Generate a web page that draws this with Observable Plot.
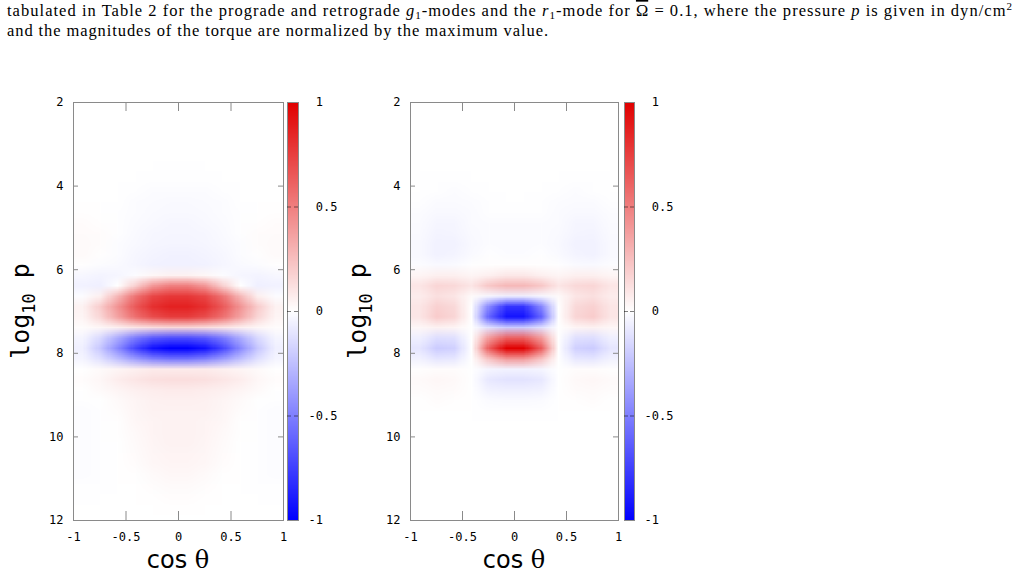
<!DOCTYPE html>
<html>
<head>
<meta charset="utf-8">
<script src="https://cdn.jsdelivr.net/npm/d3@7"></script>
<script src="https://cdn.jsdelivr.net/npm/@observablehq/plot@0.6"></script>
<style>
  html, body { margin: 0; padding: 0; background: #fff; }
  #root { position: relative; width: 1015px; height: 574px; overflow: hidden; background: #fff; }
  .abs { position: absolute; top: 0; }
  svg text { white-space: pre; }
</style>
</head>
<body>
<div id="root">
  <svg class="abs" style="left:0" width="1015" height="46" font-family="'Liberation Serif', 'DejaVu Serif', serif" font-size="16.5" fill="#000">
    <text x="7" y="16" textLength="1005" lengthAdjust="spacing">tabulated in Table 2 for the prograde and retrograde <tspan font-style="italic">g</tspan><tspan font-size="11" dy="3">1</tspan><tspan dy="-3">-modes and the </tspan><tspan font-style="italic">r</tspan><tspan font-size="11" dy="3">1</tspan><tspan dy="-3">-mode for </tspan><tspan text-decoration="overline">Ω</tspan><tspan> = 0.1, where the pressure </tspan><tspan font-style="italic">p</tspan><tspan> is given in dyn/cm</tspan><tspan font-size="11" dy="-6">2</tspan></text>
    <text x="7" y="36" textLength="541" lengthAdjust="spacing">and the magnitudes of the torque are normalized by the maximum value.</text>
  </svg>
  <div id="left" class="abs" style="left:0"></div>
  <div id="leftbar" class="abs" style="left:287px"></div>
  <div id="right" class="abs" style="left:337px"></div>
  <div id="rightbar" class="abs" style="left:624px"></div>
</div>
<script>
// ---------- axes / ticks ----------
const X_DOMAIN = [-1, 1];          // cos θ
const Y_DOMAIN = [2, 12];          // log10 p (top to bottom)
const xTickValues = [-1, -0.5, 0, 0.5, 1];
const yTickValues = [2, 4, 6, 8, 10, 12];
const cbTickValues = [1, 0.5, 0, -0.5, -1];
const N_COLS = 12;                 // cos θ cells
const N_ROWS = 40;                 // log10 p cells (0.25 each, from 2 at top to 12)

// ---------- normalized torque, left panel (rows: log p = 2 .. 12, cols: cos θ = -1 .. 1) ----------
const leftTorque = [
  [0,0,0,0,0,0,0,0,0,0,0,0],
  [0,0,0,0,0,0,0,0,0,0,0,0],
  [0,0,0,0,0,0,0,0,0,0,0,0],
  [0,0,0,0,0,0,0,0,0,0,0,0],
  [0,0,0,0,0,0,0,0,0,0,0,0],
  [0,0,0,0,0,0,0,0,0,0,0,0],
  [0,0,0,0,0,-0.005,-0.005,0,0,0,0,0],
  [0,0,0,0,-0.005,-0.005,-0.005,-0.005,0,0,0,0],
  [0,0,0,-0.005,-0.01,-0.01,-0.01,-0.01,-0.005,0,0,0],
  [0,0,0,-0.01,-0.015,-0.02,-0.02,-0.015,-0.01,0,0,0],
  [0.005,0,-0.005,-0.01,-0.02,-0.025,-0.025,-0.02,-0.01,-0.005,0,0.005],
  [0.01,0.005,-0.005,-0.015,-0.025,-0.03,-0.03,-0.025,-0.015,-0.005,0.005,0.01],
  [0.015,0.01,-0.005,-0.02,-0.03,-0.035,-0.035,-0.03,-0.02,-0.005,0.01,0.015],
  [0.02,0.01,-0.01,-0.025,-0.035,-0.04,-0.04,-0.035,-0.025,-0.01,0.01,0.02],
  [0.02,0.005,-0.01,-0.03,-0.045,-0.05,-0.05,-0.045,-0.03,-0.01,0.005,0.02],
  [0.005,-0.01,-0.02,-0.035,-0.05,-0.055,-0.055,-0.05,-0.035,-0.02,-0.01,0.005],
  [-0.03,-0.045,-0.035,-0.01,0.03,0.05,0.05,0.03,-0.01,-0.035,-0.045,-0.03],
  [-0.05,-0.06,0.0,0.18,0.4,0.5,0.5,0.4,0.18,0.0,-0.06,-0.05],
  [-0.01,0.06,0.28,0.54,0.72,0.78,0.78,0.72,0.54,0.28,0.06,-0.01],
  [0.05,0.2,0.42,0.65,0.81,0.87,0.87,0.81,0.65,0.42,0.2,0.05],
  [0.04,0.16,0.36,0.56,0.7,0.76,0.76,0.7,0.56,0.36,0.16,0.04],
  [0.01,0.03,0.06,0.1,0.13,0.15,0.15,0.13,0.1,0.06,0.03,0.01],
  [-0.04,-0.15,-0.33,-0.52,-0.65,-0.7,-0.7,-0.65,-0.52,-0.33,-0.15,-0.04],
  [-0.06,-0.22,-0.46,-0.73,-0.93,-1,-1,-0.93,-0.73,-0.46,-0.22,-0.06],
  [-0.04,-0.12,-0.25,-0.39,-0.5,-0.55,-0.55,-0.5,-0.39,-0.25,-0.12,-0.04],
  [0,0.02,0.04,0.06,0.08,0.08,0.08,0.08,0.06,0.04,0.02,0],
  [0.01,0.03,0.07,0.1,0.12,0.13,0.13,0.12,0.1,0.07,0.03,0.01],
  [0,0.02,0.04,0.06,0.07,0.08,0.08,0.07,0.06,0.04,0.02,0],
  [-0.005,0,0.02,0.04,0.055,0.06,0.06,0.055,0.04,0.02,0,-0.005],
  [-0.01,-0.005,0.01,0.035,0.05,0.05,0.05,0.05,0.035,0.01,-0.005,-0.01],
  [-0.01,-0.005,0.005,0.03,0.045,0.05,0.05,0.045,0.03,0.005,-0.005,-0.01],
  [-0.01,-0.005,0.005,0.025,0.045,0.05,0.05,0.045,0.025,0.005,-0.005,-0.01],
  [-0.01,-0.005,0,0.02,0.04,0.05,0.05,0.04,0.02,0,-0.005,-0.01],
  [-0.01,-0.005,0,0.015,0.035,0.045,0.045,0.035,0.015,0,-0.005,-0.01],
  [-0.01,-0.005,0,0.01,0.03,0.04,0.04,0.03,0.01,0,-0.005,-0.01],
  [-0.01,-0.005,0,0.005,0.02,0.03,0.03,0.02,0.005,0,-0.005,-0.01],
  [-0.005,-0.005,0,0,0.01,0.02,0.02,0.01,0,0,-0.005,-0.005],
  [-0.005,0,0,0,0.005,0.01,0.01,0.005,0,0,0,-0.005],
  [0,0,0,0,0,0.005,0.005,0,0,0,0,0],
  [0,0,0,0,0,0,0,0,0,0,0,0]
];

// ---------- normalized torque, right panel ----------
const rightTorque = [
  [0,0,0,0,0,0,0,0,0,0,0,0],
  [0,0,0,0,0,0,0,0,0,0,0,0],
  [0,0,0,0,0,0,0,0,0,0,0,0],
  [0,0,0,0,0,0,0,0,0,0,0,0],
  [0,0,0,0,0,0,0,0,0,0,0,0],
  [0,0,0,0,0,0,0,0,0,0,0,0],
  [0,0,0,0,0,0,0,0,0,0,0,0],
  [0,-0.005,-0.005,0,0,0,0,0,0,-0.005,-0.005,0],
  [0,-0.005,-0.01,-0.005,0,0,0,0,-0.005,-0.01,-0.005,0],
  [-0.005,-0.015,-0.015,-0.01,-0.005,0,0,-0.005,-0.01,-0.015,-0.015,-0.005],
  [-0.01,-0.025,-0.025,-0.015,-0.005,-0.005,-0.005,-0.005,-0.015,-0.025,-0.025,-0.01],
  [-0.015,-0.035,-0.035,-0.015,-0.01,-0.01,-0.01,-0.01,-0.015,-0.035,-0.035,-0.015],
  [-0.02,-0.045,-0.04,-0.02,-0.01,-0.015,-0.015,-0.01,-0.02,-0.04,-0.045,-0.02],
  [-0.025,-0.05,-0.05,-0.025,-0.01,-0.015,-0.015,-0.01,-0.025,-0.05,-0.05,-0.025],
  [-0.025,-0.05,-0.045,-0.02,-0.005,-0.01,-0.01,-0.005,-0.02,-0.045,-0.05,-0.025],
  [-0.01,-0.025,-0.02,-0.005,0.005,0.005,0.005,0.005,-0.005,-0.02,-0.025,-0.01],
  [0.04,0.06,0.06,0.04,0.06,0.09,0.09,0.06,0.04,0.06,0.06,0.04],
  [0.1,0.16,0.15,0.1,0.22,0.28,0.28,0.22,0.1,0.15,0.16,0.1],
  [0.07,0.12,0.1,0.02,-0.03,-0.06,-0.06,-0.03,0.02,0.1,0.12,0.07],
  [0.1,0.18,0.15,0,-0.48,-0.8,-0.8,-0.48,0,0.15,0.18,0.1],
  [0.1,0.2,0.16,0,-0.62,-0.92,-0.92,-0.62,0,0.16,0.2,0.1],
  [0.03,0.05,0.04,0,-0.12,-0.2,-0.2,-0.12,0,0.04,0.05,0.03],
  [-0.06,-0.13,-0.12,0,0.4,0.62,0.62,0.4,0,-0.12,-0.13,-0.06],
  [-0.1,-0.2,-0.18,0,0.64,1,1,0.64,0,-0.18,-0.2,-0.1],
  [-0.05,-0.1,-0.09,0,0.24,0.4,0.4,0.24,0,-0.09,-0.1,-0.05],
  [0.005,0.01,0.01,0,-0.04,-0.05,-0.05,-0.04,0,0.01,0.01,0.005],
  [0.02,0.03,0.025,0,-0.09,-0.11,-0.11,-0.09,0,0.025,0.03,0.02],
  [0.01,0.02,0.015,0,-0.05,-0.06,-0.06,-0.05,0,0.015,0.02,0.01],
  [0,0.01,0.005,0,-0.015,-0.02,-0.02,-0.015,0,0.005,0.01,0],
  [0,0,0,0,-0.005,-0.005,-0.005,-0.005,0,0,0,0],
  [0,0,0,0,0,0,0,0,0,0,0,0],
  [0,0,0,0,0,0,0,0,0,0,0,0],
  [0,0,0,0,0,0,0,0,0,0,0,0],
  [0,0,0,0,0,0,0,0,0,0,0,0],
  [0,0,0,0,0,0,0,0,0,0,0,0],
  [0,0,0,0,0,0,0,0,0,0,0,0],
  [0,0,0,0,0,0,0,0,0,0,0,0],
  [0,0,0,0,0,0,0,0,0,0,0,0],
  [0,0,0,0,0,0,0,0,0,0,0,0],
  [0,0,0,0,0,0,0,0,0,0,0,0]
];

// ---------- styling ----------
const colorScale = {type: "linear", domain: [-1, 0, 1], range: ["#0000ff", "#ffffff", "#e00000"], interpolate: "rgb"};
const GRAY = "#8a8a8a";
const MONO = "'DejaVu Sans Mono', monospace";
const TICK_FONT = 12;
const fmt = d => String(d);
const M_LEFT = 73, M_TOP = 102, M_BOTTOM = 54, H = 574;

function panel(values, frameW, yLabelX) {
  const svg = Plot.plot({
    width: M_LEFT + frameW + 20, height: H,
    marginLeft: M_LEFT, marginRight: 20, marginTop: M_TOP, marginBottom: M_BOTTOM,
    x: {domain: X_DOMAIN, axis: null},
    y: {domain: Y_DOMAIN, reverse: true, axis: null},
    color: colorScale,
    style: {background: "none", overflow: "visible", fontFamily: MONO, color: "#000"},
    marks: [
      Plot.raster(values.flat(), {width: N_COLS, height: N_ROWS, x1: X_DOMAIN[0], x2: X_DOMAIN[1], y1: Y_DOMAIN[0], y2: Y_DOMAIN[1], fill: Plot.identity, imageRendering: "auto"}),
      Plot.frame({stroke: GRAY}),
      Plot.ruleX(xTickValues.slice(1, -1), {y1: Y_DOMAIN[1], y2: Y_DOMAIN[1], insetTop: -9, stroke: GRAY}),
      Plot.ruleX(xTickValues.slice(1, -1), {y1: Y_DOMAIN[0], y2: Y_DOMAIN[0], insetBottom: -9, stroke: GRAY}),
      Plot.ruleY(yTickValues.slice(1, -1), {x1: X_DOMAIN[0], x2: X_DOMAIN[0], insetRight: -5, stroke: GRAY}),
      Plot.ruleY(yTickValues.slice(1, -1), {x1: X_DOMAIN[1], x2: X_DOMAIN[1], insetLeft: -5, stroke: GRAY}),
      Plot.text(xTickValues, {x: d => d, y: Y_DOMAIN[1], dy: 17, text: fmt, fontSize: TICK_FONT, fill: "#000"}),
      Plot.text(yTickValues, {x: X_DOMAIN[0], y: d => d, dx: -10, textAnchor: "end", text: fmt, fontSize: TICK_FONT, fill: "#000"})
    ]
  });
  const s = d3.select(svg);
  const yl = s.append("text")
    .attr("transform", `translate(${yLabelX},${M_TOP + (H - M_TOP - M_BOTTOM) / 2}) rotate(-90)`)
    .attr("text-anchor", "middle").attr("font-family", MONO).attr("font-size", 25).attr("fill", "#000");
  yl.append("tspan").text("log");
  yl.append("tspan").attr("font-size", 17).attr("dy", 6).text("10");
  yl.append("tspan").attr("dy", -6).text(" p");
  const xl = s.append("text")
    .attr("x", M_LEFT + frameW / 2).attr("y", 568)
    .attr("text-anchor", "middle").attr("font-size", 24).attr("fill", "#000");
  xl.append("tspan").attr("font-family", "'DejaVu Sans', sans-serif").text("cos ");
  xl.append("tspan").attr("font-family", "'DejaVu Serif', serif").text("θ");
  return svg;
}

function colorbar(barW) {
  return Plot.plot({
    width: barW + 50, height: H,
    marginLeft: 0, marginRight: 50, marginTop: M_TOP, marginBottom: M_BOTTOM,
    x: {domain: [0, 1], axis: null},
    y: {domain: [-1, 1], axis: null},
    color: colorScale,
    style: {background: "none", overflow: "visible", fontFamily: MONO, color: "#000"},
    marks: [
      Plot.raster({x1: 0, x2: 1, y1: -1, y2: 1, fill: (x, y) => y, pixelSize: 1}),
      Plot.frame({stroke: GRAY}),
      Plot.ruleY(cbTickValues.slice(1, -1), {x1: 0, x2: 0, insetRight: -4, stroke: "#000", strokeOpacity: 0.5}),
      Plot.ruleY(cbTickValues.slice(1, -1), {x1: 1, x2: 1, insetLeft: -4, stroke: "#000", strokeOpacity: 0.5}),
      Plot.text(cbTickValues, {x: 1, y: d => d, dx: 10, textAnchor: "start", text: d => (d >= 0 ? "\u00a0" : "") + String(d), fontSize: TICK_FONT, fill: "#000"})
    ]
  });
}

document.getElementById("left").append(panel(leftTorque, 210, 29));
document.getElementById("leftbar").append(colorbar(11));
document.getElementById("right").append(panel(rightTorque, 208, 29));
document.getElementById("rightbar").append(colorbar(10));
</script>
</body>
</html>
